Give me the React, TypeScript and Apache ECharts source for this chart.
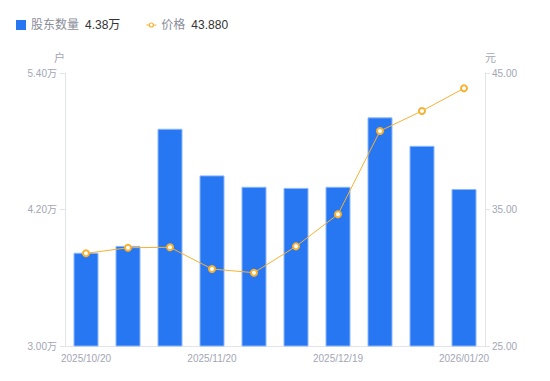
import React, { useEffect, useRef } from "react";
import * as echarts from "echarts";

const categories = [
  "2025/10/20", "2025/10/31", "2025/11/10", "2025/11/20", "2025/11/28",
  "2025/12/10", "2025/12/19", "2025/12/31", "2026/01/09", "2026/01/20",
];
const holders = [3.82, 3.88, 4.91, 4.50, 4.40, 4.39, 4.40, 5.01, 4.76, 4.38];
const prices = [31.79, 32.20, 32.23, 30.64, 30.37, 32.30, 34.65, 40.75, 42.22, 43.88];
const legendValues: Record<string, string> = {
  "股东数量": "4.38万",
  "价格": "43.880",
};

const FONT = '"Liberation Sans", Arial, "Noto Sans CJK SC", sans-serif';
const GREY = "#a3a6b4";
const LINE_ICON =
  "path://M0,4.5H2.6V5.5H0Z M7.4,4.5H10V5.5H7.4Z " +
  "M2.4,5A2.6,2.6 0 1,1 7.6,5A2.6,2.6 0 1,1 2.4,5Z " +
  "M3.6,5A1.4,1.4 0 1,0 6.4,5A1.4,1.4 0 1,0 3.6,5Z";

export default function App() {
  const ref = useRef<HTMLDivElement>(null);
  useEffect(() => {
    const chart = echarts.init(ref.current!, undefined, { renderer: "svg" });
    chart.setOption({
      animation: false,
      textStyle: { fontFamily: FONT },
      legend: {
        left: 11,
        top: 14,
        itemWidth: 10,
        itemHeight: 10,
        itemGap: 26,
        itemStyle: { borderWidth: 0 },
        data: [
          { name: "股东数量", icon: "rect", itemStyle: { borderWidth: 0 } },
          { name: "价格", icon: LINE_ICON, itemStyle: { borderWidth: 0, color: "#f9b131" } },
        ],
        formatter: (name: string) => `{n|${name}}{v|${legendValues[name]}}`,
        textStyle: {
          fontFamily: FONT,
          rich: {
            n: { fontSize: 12, color: "#8a8d99", padding: [0, 6, 0, 0], fontFamily: FONT },
            v: { fontSize: 12, color: "#333", fontFamily: FONT },
          },
        },
      },
      grid: { left: 65, right: 65, top: 73, bottom: 35 },
      xAxis: {
        type: "category",
        data: categories,
        axisLine: { lineStyle: { color: "#e3e4e8" } },
        axisTick: { show: false },
        axisLabel: {
          interval: 2,
          color: GREY,
          fontSize: 10,
          margin: 7,
          fontFamily: FONT,
        },
      },
      yAxis: [
        {
          type: "value",
          name: "户",
          nameGap: 10,
          nameTextStyle: { color: GREY, fontSize: 11, align: "right", fontFamily: FONT },
          min: 3.0,
          max: 5.4,
          interval: 1.2,
          axisLine: { show: true, lineStyle: { color: "#e3e4e8" } },
          axisTick: { show: true, length: 5, lineStyle: { color: "#e3e4e8" } },
          splitLine: { show: false },
          axisLabel: {
            color: GREY,
            fontSize: 10,
            margin: 8,
            fontFamily: FONT,
            formatter: (v: number) => v.toFixed(2) + "万",
          },
        },
        {
          type: "value",
          name: "元",
          nameGap: 10,
          nameTextStyle: { color: GREY, fontSize: 11, align: "left", fontFamily: FONT },
          min: 25,
          max: 45,
          interval: 10,
          axisLine: { show: true, lineStyle: { color: "#e3e4e8" } },
          axisTick: { show: true, length: 5, lineStyle: { color: "#e3e4e8" } },
          splitLine: { show: false },
          axisLabel: {
            color: GREY,
            fontSize: 10,
            margin: 7,
            fontFamily: FONT,
            formatter: (v: number) => v.toFixed(2),
          },
        },
      ],
      series: [
        {
          name: "股东数量",
          type: "bar",
          yAxisIndex: 0,
          data: holders,
          barWidth: 25,
          itemStyle: { color: "#2777f3", borderColor: "#8cb8fa", borderWidth: 1 },
        },
        {
          name: "价格",
          type: "line",
          yAxisIndex: 1,
          data: prices,
          symbol: "emptyCircle",
          symbolSize: 6,
          lineStyle: { color: "#f9b131", width: 1 },
          itemStyle: { color: "#f9b131", borderWidth: 2 },
        },
      ],
    });
    return () => chart.dispose();
  }, []);
  return <div ref={ref} style={{ width: 550, height: 381, margin: -8 }} />;
}
